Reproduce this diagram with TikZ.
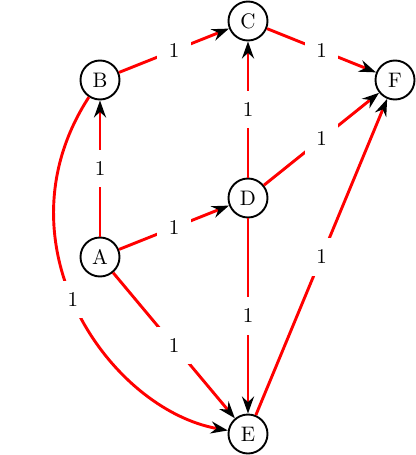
\documentclass[tikz,border=0pt]{standalone}
\usetikzlibrary{arrows.meta}
\begin{document}
\begin{tikzpicture}[x=0.5pt,y=-0.5pt,font=\fontsize{10.5}{12}\selectfont,
  vertex/.style={circle,draw=black,line width=0.95pt,minimum size=19.5pt,inner sep=0pt,fill=white},
  edge/.style={draw=red,line width=1.45pt,-{Stealth[black,length=8.5pt,width=6pt,inset=2.8pt]}},
  wlabel/.style={fill=white,inner sep=5.8pt}]
\useasboundingbox (0,0) rectangle (416,455);
\node[vertex] (A) at (100,257) {A};
\node[vertex] (B) at (100,80) {B};
\node[vertex] (C) at (248,21) {C};
\node[vertex] (D) at (248,198) {D};
\node[vertex] (E) at (248,434) {E};
\node[vertex] (F) at (395,80) {F};
\path[edge] (B) -- node[wlabel] (lbc) {1} (C);
\path[edge] (C) -- node[wlabel] (lcf) {1} (F);
\path[edge] (D) -- node[wlabel] (ldc) {1} (C);
\path[edge] (D) -- node[wlabel] (ldf) {1} (F);
\path[edge] (A) -- node[wlabel] (lab) {1} (B);
\path[edge] (A) -- node[wlabel] (lad) {1} (D);
\path[edge] (A) -- node[wlabel] (lae) {1} (E);
\path[edge] (D) -- node[wlabel] (lde) {1} (E);
\path[edge] (E) -- node[wlabel] (lef) {1} (F);
\path[edge] (B.237) .. controls +(237:87.5pt) and +(170:60pt) .. node[wlabel,pos=0.47] (lbe) {1} (E.170);
\end{tikzpicture}
\end{document}
